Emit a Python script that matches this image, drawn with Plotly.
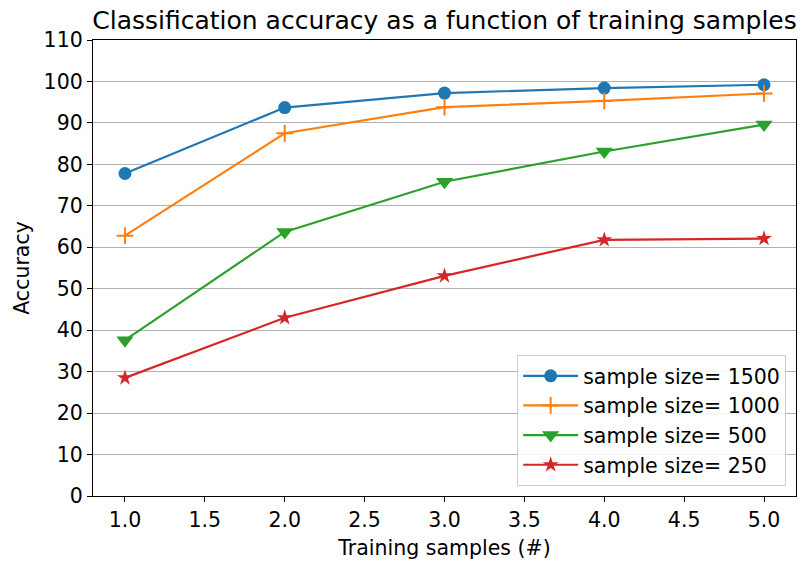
import plotly.graph_objects as go

x_vals = [1, 2, 3, 4, 5]
acc_1500 = [77.8, 93.7, 97.2, 98.4, 99.2]
acc_1000 = [62.8, 87.5, 93.8, 95.3, 97.1]
acc_500 = [37.6, 63.7, 75.8, 83.1, 89.6]
acc_250 = [28.5, 43.0, 53.1, 61.8, 62.1]
names = ["sample size= 1500", "sample size= 1000", "sample size= 500", "sample size= 250"]
colors = ["#1f77b4", "#ff7f0e", "#2ca02c", "#d62728"]
x_ticks = [1.0, 1.5, 2.0, 2.5, 3.0, 3.5, 4.0, 4.5, 5.0]
y_ticks = list(range(0, 111, 10))

font = "DejaVu Sans, Verdana, sans-serif"

fig = go.Figure()
series = [acc_1500, acc_1000, acc_500, acc_250]
markers = [
    dict(symbol="circle", size=13, color=colors[0]),
    dict(symbol="cross-thin", size=12, color=colors[1], line=dict(width=2, color=colors[1])),
    dict(symbol="triangle-down", size=15, color=colors[2]),
    dict(symbol="star", size=12, color=colors[3]),
]
for ys, nm, c, mk in zip(series, names, colors, markers):
    fig.add_trace(go.Scatter(x=x_vals, y=ys, mode="lines+markers", name=nm,
                             line=dict(color=c, width=2.2), marker=mk))

fig.update_layout(
    width=806, height=565,
    margin=dict(l=93, r=10, t=40, b=69),
    plot_bgcolor="white", paper_bgcolor="white",
    font=dict(family=font, size=20.5, color="black"),
    title=dict(text="Classification accuracy as a function of training samples",
               font=dict(size=25, color="black"),
               x=0.5, xref="paper", xanchor="center",
               y=1, yref="paper", yanchor="bottom", pad=dict(b=11)),
    showlegend=True,
    legend=dict(x=0.986, y=0.022, xanchor="right", yanchor="bottom",
                bgcolor="rgba(255,255,255,0.85)", bordercolor="#cccccc", borderwidth=1,
                font=dict(size=20.5), tracegroupgap=0, itemwidth=55),
)
fig.update_xaxes(range=[0.8, 5.2], tickvals=x_ticks, ticktext=[f"{t:.1f}" for t in x_ticks],
                 showgrid=False, zeroline=False, showline=True, linecolor="black",
                 linewidth=1.3, mirror=True, ticks="outside", ticklen=5, tickwidth=1.2,
                 tickcolor="black", title=dict(text="Training samples (#)", font=dict(size=20.5), standoff=9))
fig.update_yaxes(range=[0, 110], tickvals=y_ticks, showgrid=True, gridcolor="#b0b0b0", gridwidth=1.2,
                 zeroline=False, showline=True, linecolor="black", linewidth=1.3, mirror=True,
                 ticks="outside", ticklen=5, tickwidth=1.2, tickcolor="black",
                 title=dict(text="Accuracy", font=dict(size=20.5), standoff=8))

fig.write_html("out.html")
